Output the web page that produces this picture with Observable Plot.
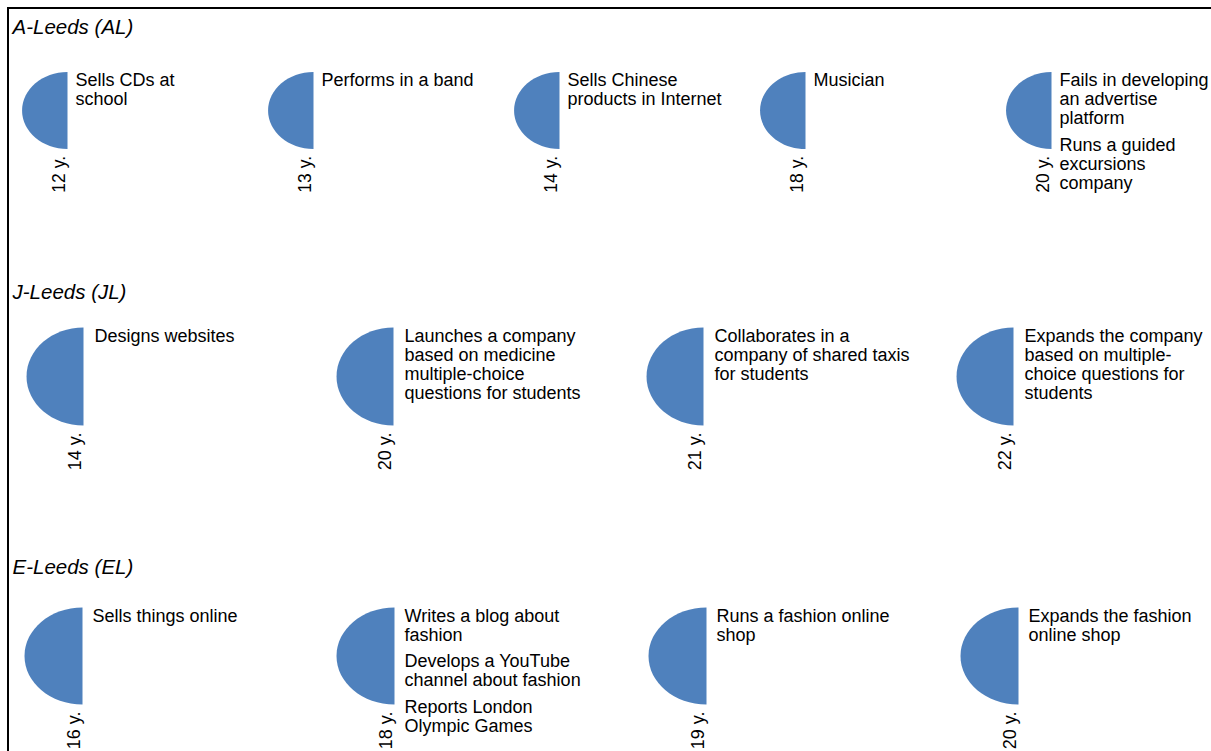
<!DOCTYPE html>
<html>
<head>
<meta charset="utf-8">
<script src="https://cdn.jsdelivr.net/npm/d3@7"></script>
<script src="https://cdn.jsdelivr.net/npm/@observablehq/plot@0.6"></script>
<style>
html, body { margin: 0; padding: 0; background: #fff; overflow: hidden; width: 1211px; height: 751px; }
#frame { position: absolute; left: 7px; top: 7px; width: 1400px; height: 1000px; border-left: 2px solid #000; border-top: 2px solid #000; }
.row { position: absolute; left: 0; }
</style>
</head>
<body>
<div id="frame"></div>
<div id="rows"></div>
<script>
// ---- data ----
const people = ["A-Leeds (AL)", "J-Leeds (JL)", "E-Leeds (EL)"];

const agesAL = [12, 13, 14, 18, 20];
const activitiesAL = [
  ["Sells CDs at\nschool"],
  ["Performs in a band"],
  ["Sells Chinese\nproducts in Internet"],
  ["Musician"],
  ["Fails in developing\nan advertise\nplatform", "Runs a guided\nexcursions\ncompany"]
];

const agesJL = [14, 20, 21, 22];
const activitiesJL = [
  ["Designs websites"],
  ["Launches a company\nbased on medicine\nmultiple-choice\nquestions for students"],
  ["Collaborates in a\ncompany of shared taxis\nfor students"],
  ["Expands the company\nbased on multiple-\nchoice questions for\nstudents"]
];

const agesEL = [16, 18, 19, 20];
const activitiesEL = [
  ["Sells things online"],
  ["Writes a blog about\nfashion", "Develops a YouTube\nchannel about fashion", "Reports London\nOlympic Games"],
  ["Runs a fashion online\nshop"],
  ["Expands the fashion\nonline shop"]
];

// ---- layout (pixels) ----
const layouts = [
  {top: 0,   height: 262, titleY: 33.5, cy: 110,   ry: 38.5, ratio: 1.18,  xRange: [66, 1052], textDx: 8,  ageSize: 17.5},
  {top: 262, height: 278, titleY: 36,   cy: 114,   ry: 49,   ratio: 1.163, xRange: [83, 1013], textDx: 11, ageSize: 18},
  {top: 540, height: 211, titleY: 33,   cy: 115.5, ry: 48.5, ratio: 1.196, xRange: [82, 1018], textDx: 10, ageSize: 18}
];

const FONT = '"Liberation Sans", Arial, "DejaVu Sans", sans-serif';
const BLUE = "#4F81BD";
const LINE = 19, ENTRY_GAP = 7.5;

function halfEllipse(ratio) {
  return {
    draw(ctx, size) {
      const ry = Math.sqrt(size / Math.PI), rx = ry * ratio, k = 0.5523;
      ctx.moveTo(0, -ry);
      ctx.bezierCurveTo(-k * rx, -ry, -rx, -k * ry, -rx, 0);
      ctx.bezierCurveTo(-rx, k * ry, -k * rx, ry, 0, ry);
      ctx.closePath();
    }
  };
}

const rowsData = [
  [agesAL, activitiesAL],
  [agesJL, activitiesJL],
  [agesEL, activitiesEL]
];

const container = document.getElementById("rows");

rowsData.forEach(([ages, acts], r) => {
  const L = layouts[r];
  const events = ages.map((a, i) => ({age: `${a} y.`, entries: acts[i]}));
  const textTop = L.cy - L.ry + 14;
  const lines = [];
  events.forEach(ev => {
    let n = 0;
    ev.entries.forEach((e, j) => {
      e.split("\n").forEach(t => {
        lines.push({age: ev.age, text: t, y: textTop + n * LINE + j * ENTRY_GAP});
        n++;
      });
    });
  });

  const chart = Plot.plot({
    width: 1211,
    height: L.height,
    margin: 0,
    x: {type: "point", domain: events.map(d => d.age), range: L.xRange, padding: 0, axis: null},
    y: {type: "identity", axis: null},
    style: {background: "transparent", fontFamily: FONT, overflow: "visible"},
    marks: [
      Plot.text([people[r]], {
        text: d => d, frameAnchor: "left", y: L.titleY, dx: 12,
        textAnchor: "start", lineAnchor: "bottom",
        fontSize: 20.5, fontStyle: "italic", fill: "#000"
      }),
      Plot.dot(events, {
        x: "age", y: L.cy, r: L.ry, symbol: halfEllipse(L.ratio),
        fill: BLUE, stroke: "none"
      }),
      Plot.text(events, {
        x: "age", y: L.cy + L.ry + 7, text: "age", rotate: -90,
        textAnchor: "end", lineAnchor: "bottom", dx: -2.5,
        fontSize: L.ageSize, fill: "#000"
      }),
      Plot.text(lines, {
        x: "age", y: "y", text: "text", textAnchor: "start", lineAnchor: "bottom",
        dx: L.textDx, fontSize: 18, fill: "#000"
      })
    ]
  });
  const div = document.createElement("div");
  div.className = "row";
  div.style.top = L.top + "px";
  div.appendChild(chart);
  container.appendChild(div);
});
</script>
</body>
</html>
